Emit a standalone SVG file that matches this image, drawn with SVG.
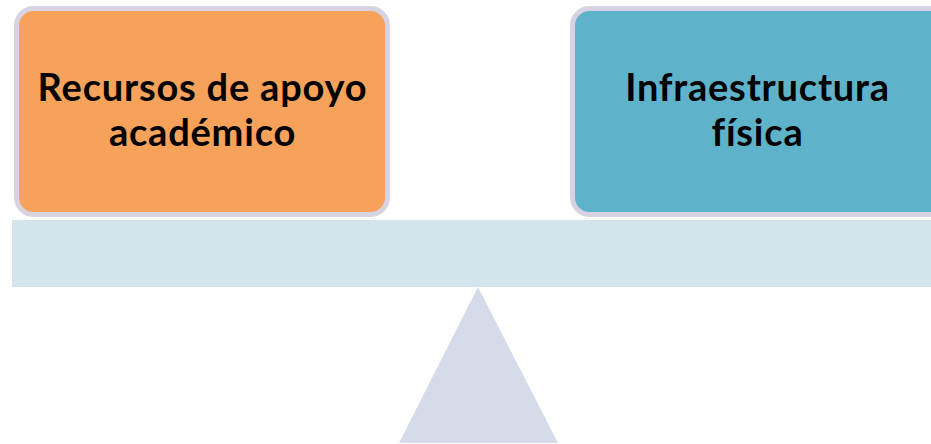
<svg xmlns="http://www.w3.org/2000/svg" width="931" height="444" viewBox="0 0 931 444">
<style>
.box{stroke:#d8d3e3;stroke-width:5}
.lbl{font-family:Lato,"Liberation Sans",sans-serif;font-weight:bold;font-size:38px;letter-spacing:0.8px;fill:#000;text-anchor:middle}
</style>
<rect x="0" y="0" width="931" height="444" fill="#fff"/>
<g id="fulcrum"><polygon points="478,287 399,443 558,443" fill="#d5dbe8"/></g>
<g id="beam"><rect x="12" y="220" width="930" height="67" fill="#d4e4ec"/></g>
<g id="left-node">
<rect class="box" x="16.5" y="8.5" width="371" height="206" rx="17" fill="#f6a25a"/>
<text class="lbl" x="202.5" y="101">Recursos de apoyo</text>
<text class="lbl" x="202.5" y="146">académico</text>
</g>
<g id="right-node">
<rect class="box" x="572.5" y="8.5" width="380" height="206" rx="17" fill="#5eb3cb"/>
<text class="lbl" x="757.5" y="101">Infraestructura</text>
<text class="lbl" x="757.5" y="146">física</text>
</g>
<g id="connectors"></g>
</svg>
